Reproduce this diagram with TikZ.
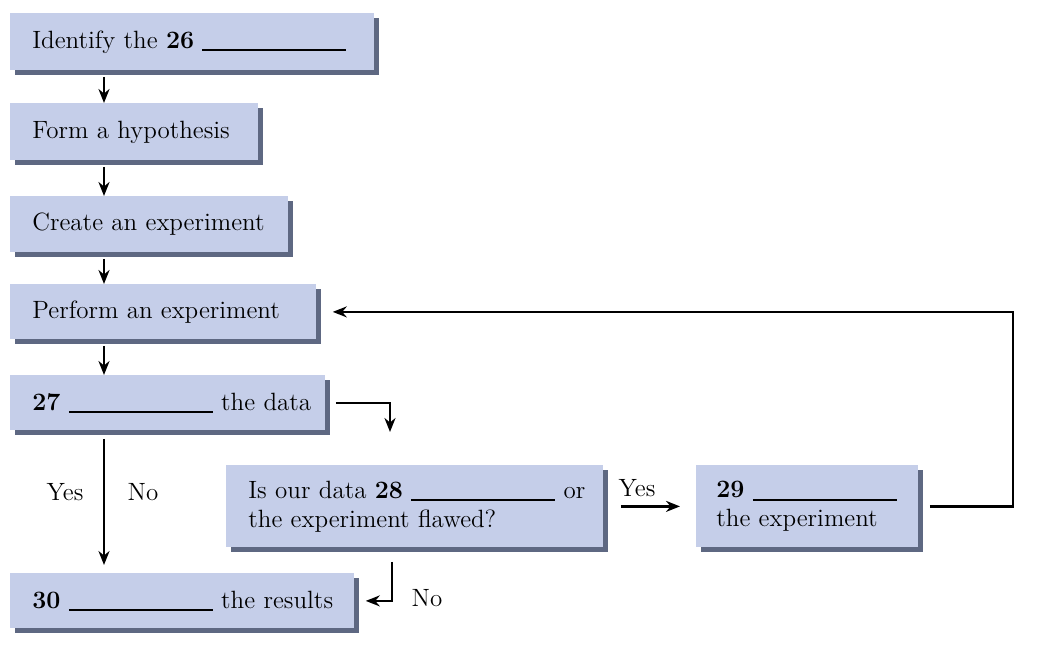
\documentclass[tikz,border=0pt]{standalone}
\usepackage{fontspec}
\usetikzlibrary{arrows.meta,shadows,calc}
\definecolor{boxfill}{RGB}{197,206,233}
\definecolor{boxshadow}{RGB}{66,78,108}
\newcommand\blankline{\rule[-1.5pt]{72pt}{0.9pt}}
\newcommand\padl{\hspace*{11pt}}
\begin{document}
\begin{tikzpicture}[x=0.5pt,y=-0.5pt,
  box/.style={fill=boxfill, anchor=north west, inner xsep=0pt, inner ysep=0pt,
    align=left, font=\fontsize{12.5}{14.5}\selectfont,
    drop shadow={shadow xshift=2.5pt, shadow yshift=-2.5pt, fill=boxshadow, opacity=0.85}},
  arr/.style={-{Stealth[length=7pt,width=5.5pt]}, line width=1.1pt},
  lbl/.style={font=\fontsize{12.5}{14.5}\selectfont, inner sep=0pt}]
\useasboundingbox (0,0) rectangle (1044,668);

\node[box, text width=182pt, minimum height=28.5pt] (b1) at (10,13) {\padl Identify the \textbf{26} \blankline};
\node[box, text width=124pt, minimum height=28.5pt] (b2) at (10,103) {\padl Form a hypothesis};
\node[box, text width=139pt, minimum height=28pt] (b3) at (10,196) {\padl Create an experiment};
\node[box, text width=153pt, minimum height=27.5pt] (b4) at (10,284) {\padl Perform an experiment};
\node[box, text width=157.5pt, minimum height=27.5pt] (b5) at (10,375) {\padl\textbf{27} \blankline\ the data};
\node[box, text width=188.5pt, minimum height=41pt] (b6) at (226,465) {\padl Is our data \textbf{28} \blankline\ or\\\padl the experiment flawed?};
\node[box, text width=111pt, minimum height=41pt] (b7) at (696,465) {\hspace*{10pt}\textbf{29} \blankline\\\hspace*{10pt}the experiment};
\node[box, text width=172pt, minimum height=27.5pt] (b8) at (10,573) {\padl\textbf{30} \blankline\ the results};

\coordinate (xc) at (104,0);
\draw[arr, shorten <=3pt] (b1.south -| xc) -- (b2.north -| xc);
\draw[arr, shorten <=3pt] (b2.south -| xc) -- (b3.north -| xc);
\draw[arr, shorten <=3pt] (b3.south -| xc) -- (b4.north -| xc);
\draw[arr, shorten <=3pt] (b4.south -| xc) -- (b5.north -| xc);
\draw[arr, shorten <=4pt, shorten >=4pt] (b5.south -| xc) -- (b8.north -| xc);
\node[lbl] (yes1) at (65,492) {Yes};
\node[lbl] (no1) at (143,492) {No};

\coordinate (c1) at (390,432);
\draw[arr] ([xshift=5pt]b5.east) -| (c1);

\draw[arr] ([xshift=8.5pt]b6.east) -- ([xshift=-8pt]b7.west);
\node[lbl] (yes2) at (637,488) {Yes};

\coordinate (lc) at (1013,0);
\draw[arr] ([xshift=5.5pt]b7.east) -| (lc |- b4.east) -- ([xshift=8pt]b4.east);

\coordinate (c2) at (392,0);
\draw[arr] ([yshift=-7pt]b6.south -| c2) |- ([xshift=5.5pt]b8.east);
\node[lbl] (no2) at (427,598) {No};
\end{tikzpicture}
\end{document}
